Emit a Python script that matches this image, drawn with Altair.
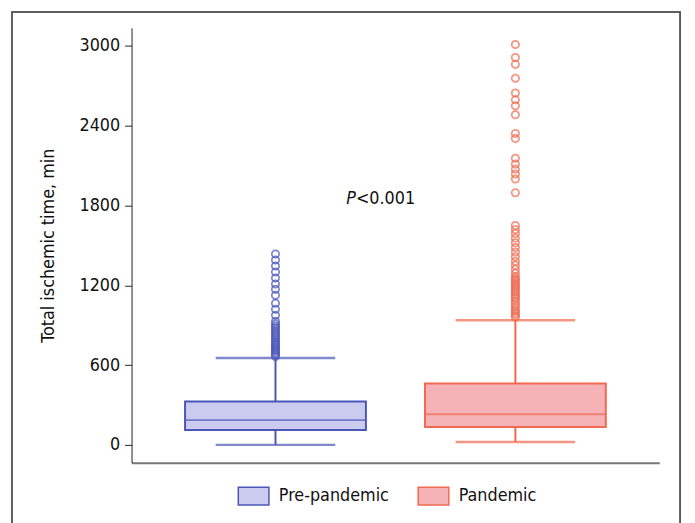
import altair as alt
import pandas as pd

groups = ["Pre-pandemic", "Pandemic"]
lower = [0, 22]
q1 = [111, 134]
median = [186, 230]
q3 = [327, 461]
upper = [654, 937]

pre_outliers = [665, 678, 690, 702, 714, 726, 738, 750, 762, 775, 790, 805, 820, 835,
                850, 865, 880, 895, 910, 930, 975, 1020, 1065, 1125, 1170, 1210, 1255,
                1300, 1345, 1390, 1435]
pan_outliers = [960, 975, 990, 1005, 1020, 1040, 1060, 1080, 1100, 1115, 1130, 1145,
                1160, 1175, 1190, 1205, 1220, 1235, 1250, 1265, 1290, 1320, 1350, 1380,
                1415, 1450, 1485, 1520, 1555, 1590, 1620, 1650, 1896, 2000, 2037, 2074,
                2112, 2156, 2305, 2342, 2483, 2550, 2595, 2647, 2758, 2862, 2914, 3011]

fills = ["#cbcbf0", "#f5b3b7"]
strokes = ["#4b57b8", "#ef6a50"]
y_ticks = [0, 600, 1200, 1800, 2400, 3000]
y_title = "Total ischemic time, min"
p_value = 1850

FONT = "DejaVu Sans Condensed, Liberation Sans Narrow, sans-serif"

stats = pd.DataFrame({"group": groups, "lower": lower, "q1": q1, "median": median,
                      "q3": q3, "upper": upper})
outl = pd.DataFrame({
    "group": ["Pre-pandemic"] * len(pre_outliers) + ["Pandemic"] * len(pan_outliers),
    "value": pre_outliers + pan_outliers,
})

xscale = alt.Scale(domain=groups, paddingInner=0, paddingOuter=0.1)
yscale = alt.Scale(domain=[-134, 3137], nice=False, zero=False)
fill_scale = alt.Scale(domain=groups, range=fills)
stroke_scale = alt.Scale(domain=groups, range=strokes)
# same mapping, listed in reverse order so that its (hidden) legend stays separate
color_scale = alt.Scale(domain=groups[::-1], range=strokes[::-1])

x_enc = alt.X("group:N", scale=xscale, sort=groups,
              axis=alt.Axis(title=None, labels=False, ticks=False, domainColor="#777777",
                            domainWidth=2))
y_axis = alt.Axis(values=y_ticks, format="d", title=y_title, grid=False, tickSize=7,
                  tickColor="#222", domainColor="#222", labelFontSize=18, labelFont=FONT,
                  labelColor="#111", labelPadding=5, titleFont=FONT, titleFontSize=18,
                  titleFontWeight="normal", titleColor="#111", titlePadding=22)

base = alt.Chart(stats)

frame = base.mark_rect(fill="transparent", stroke="#555555", strokeWidth=1.5).encode(
    x=alt.value(-121), x2=alt.value(555), y=alt.value(-16), y2=alt.value(540))

whisk = base.mark_rule(strokeWidth=2).encode(
    x=x_enc,
    y=alt.Y("lower:Q", scale=yscale, axis=y_axis),
    y2="upper:Q",
    color=alt.Color("group:N", scale=color_scale, legend=None),
)

caps_low = base.mark_tick(size=121, thickness=2.5).encode(
    x=x_enc, y=alt.Y("lower:Q"),
    color=alt.Color("group:N", scale=color_scale, legend=None))
caps_up = base.mark_tick(size=121, thickness=2.5).encode(
    x=x_enc, y=alt.Y("upper:Q"),
    color=alt.Color("group:N", scale=color_scale, legend=None))

legend = alt.Legend(title=None, orient="none", legendX=107, legendY=457, direction="horizontal",
                    symbolType="M-1,-0.58H1V0.58H-1Z", symbolSize=961, symbolStrokeWidth=1.5,
                    labelFont=FONT, labelFontSize=18, labelColor="#111", columnPadding=26,
                    labelOffset=9, padding=0)

box = base.mark_bar(size=183, strokeWidth=2).encode(
    x=x_enc,
    y=alt.Y("q1:Q"),
    y2="q3:Q",
    fill=alt.Fill("group:N", scale=fill_scale, legend=legend),
    stroke=alt.Stroke("group:N", scale=stroke_scale, legend=legend),
)

med = base.mark_tick(size=183, thickness=2).encode(
    x=x_enc, y=alt.Y("median:Q"),
    color=alt.Color("group:N", scale=color_scale, legend=None))

pts = alt.Chart(outl).mark_point(shape="circle", size=55, strokeWidth=1.8, filled=False).encode(
    x=x_enc, y=alt.Y("value:Q"),
    color=alt.Color("group:N", scale=color_scale, legend=None))

ptxt = pd.DataFrame({"y": [p_value]})
p1 = alt.Chart(ptxt).mark_text(text="P", fontStyle="italic", align="right", baseline="middle",
                               font=FONT, fontSize=18, color="#111").encode(
    x=alt.value(227), y=alt.Y("y:Q"))
p2 = alt.Chart(ptxt).mark_text(text="<0.001", align="left", baseline="middle",
                               font=FONT, fontSize=18, color="#111").encode(
    x=alt.value(227), y=alt.Y("y:Q"))

chart = alt.layer(frame, whisk, caps_low, caps_up, box, med, pts, p1, p2).properties(
    width=534, height=440,
    autosize=alt.AutoSizeParams(type="none"),
    padding={"left": 125, "top": 17, "right": 28, "bottom": 58},
    background="white",
).configure_view(stroke=None)

chart.save("out.html", embed_options={"renderer": "svg", "actions": False})
